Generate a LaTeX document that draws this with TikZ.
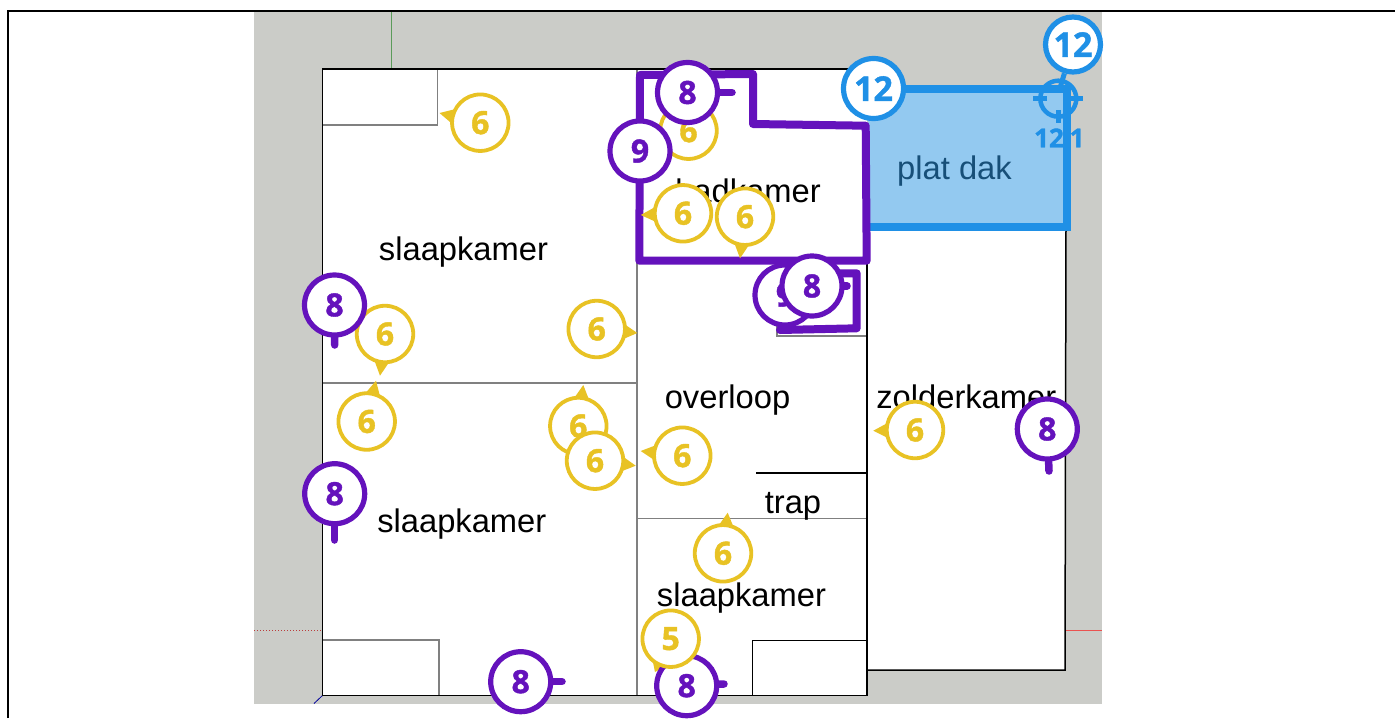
\documentclass[tikz,border=0pt]{standalone}
\usepackage{fontspec}
\setmainfont{Liberation Sans}
\newfontfamily\digitfont[BoldFeatures={FakeBold=1.2}]{Open Sans}
\usetikzlibrary{calc}
\definecolor{ground}{HTML}{CBCCC8}
\definecolor{yel}{HTML}{E8C224}
\definecolor{pur}{HTML}{6412BC}
\definecolor{blu}{HTML}{1F90E6}
\definecolor{roof}{HTML}{93C9F0}
\definecolor{roofink}{HTML}{174F78}
\definecolor{wallgray}{HTML}{808080}
\tikzset{
  wall/.style={draw=black,line width=1.5pt},
  inner wall/.style={draw=wallgray,line width=1.6pt},
  room label/.style={font=\fontsize{32.7}{34}\selectfont,anchor=base,inner sep=0pt,text=black},
  yel badge/.style={circle,draw=yel,fill=white,line width=3.8pt,minimum size=56.5pt,inner sep=0pt,text=yel,font=\fontsize{32}{34}\selectfont\digitfont\bfseries},
  pur badge/.style={circle,draw=pur,fill=white,line width=5.2pt,minimum size=60pt,inner sep=0pt,text=pur,font=\fontsize{32}{34}\selectfont\digitfont\bfseries},
  blu badge/.style={circle,draw=blu,fill=white,line width=5.2pt,minimum size=60pt,inner sep=0pt,text=blu,font=\fontsize{34}{36}\selectfont\digitfont\bfseries},
  pur line/.style={draw=pur,line width=8pt,line cap=round,line join=round},
  pin line/.style={draw=pur,line width=7.5pt,line cap=round},
  blu line/.style={draw=blu,line width=8pt},
  blu thin/.style={draw=blu,line width=4.5pt},
}
% name, x, y, tip x, tip y
\newcommand{\yeltip}[5]{%
  \coordinate (#1c) at (#2,#3);
  \coordinate (#1t) at (#4,#5);
  \fill[yel] (#1t) -- ($(#1c)!27pt!18:(#1t)$) -- ($(#1c)!27pt!-18:(#1t)$) -- cycle;}
\newcommand{\yelbadge}[6]{\yeltip{#1}{#2}{#3}{#4}{#5}\node[yel badge] (#1) at (#1c) {#6};}
\newcommand{\purbadge}[6]{%
  \coordinate (#1t) at (#4,#5);
  \node[pur badge] (#1) at (#2,#3) {#6};
  \draw[pin line] (#1) -- (#1t);}
\begin{document}
\begin{tikzpicture}[x=1pt,y=-1pt]
\useasboundingbox (0,0) rectangle (1395,718);
% frame
\coordinate (frameTL) at (8,11);
\coordinate (frameBL) at (8,718);
\coordinate (frameTR) at (1395,11);
\draw[black,line width=2.5pt] (frameBL) -- (frameTL) -- (frameTR);
% ground
\fill[ground] (254,12.3) rectangle (1102,703.5);
% axes
\draw[green!45!black!55!ground,line width=1pt] (391.5,12.3) -- (391.5,69);
\draw[red!70!black!70!ground,line width=1pt,dotted] (254,630.5) -- (322,630.5);
\draw[red!60!ground,line width=1pt] (1066,630.5) -- (1102,630.5);
\draw[blue!60!black,line width=.8pt] (323,695) -- (314,703.5);
% floors
\fill[white] (322.5,69) rectangle (867,695.5);
\fill[white] (867,226) rectangle (1065.5,670);
% interior walls
\draw[inner wall] (322.5,125) -- (437.3,125) -- (437.3,69);
\draw[inner wall] (322.5,383) -- (637,383);
\draw[inner wall] (637,69) -- (637,695.5);
\draw[inner wall] (637,518.5) -- (867,518.5);
\draw[inner wall] (323,640) -- (438.7,640) -- (438.7,695.5);
\draw[inner wall] (777,300) -- (777,336) -- (867,336);
\draw[wall] (756,473) -- (867,473);
\draw[wall] (752.3,695.5) -- (752.3,640.7) -- (867,640.7);
% outer walls
\draw[wall] (322.5,695.5) -- (322.5,69) -- (867,69);
\draw[wall] (322.5,695.5) -- (867,695.5) -- (867,226);
\draw[wall] (867,670) -- (1065,670) -- (1066,226);
% labels
\node[room label] (lblA) at (463.5,260) {slaapkamer};
\node[room label] (lblB) at (461.8,532.5) {slaapkamer};
\node[room label] (lblC) at (741.5,606) {slaapkamer};
\node[room label] (lblD) at (727.5,408) {overloop};
\node[room label] (lblE) at (793,513) {trap};
\node[room label] (lblF) at (966.3,408) {zolderkamer};
\node[room label] (lblG) at (748,202.5) {badkamer};
% flat roof
\fill[roof] (868,89) rectangle (1066.7,226.7);
\node[room label,text=roofink] (lblH) at (954.5,179) {plat dak};
\draw[blu line] (868,226.7) -- (1066.7,226.7) -- (1066.7,89) -- (868,89);
% crosshair
\node[circle,draw=blu,line width=4.5pt,minimum size=36pt,inner sep=0pt] (cross) at (1058.3,98.7) {};
\coordinate (cL1) at (1033,98.7); \coordinate (cL2) at (1047,98.7);
\coordinate (cR1) at (1070,98.7); \coordinate (cR2) at (1083,98.7);
\coordinate (cB1) at (1058.3,110); \coordinate (cB2) at (1058.3,123);
\draw[blu thin] (cL1) -- (cL2);
\draw[blu thin] (cR1) -- (cR2);
\draw[blu thin] (cB1) -- (cB2);
\node[inner sep=0pt,anchor=base,text=blu,font=\fontsize{26}{28}\selectfont\digitfont\bfseries] (dimA) at (1049,147.3) {12};
\node[inner sep=0pt,anchor=base,text=blu,font=\fontsize{26}{28}\selectfont\digitfont\bfseries] (dimB) at (1077,147.3) {1};
\draw[blu line] (1066.7,85) -- (1066.7,150);
% purple outlines
\draw[pur line] (640,75) -- (753,74) -- (753,124) -- (865.7,125.7) -- (866.7,260.7) -- (639.3,260.7) -- cycle;
\draw[pur line] (780,330) -- (856.7,328.3) -- (856.7,273.3) -- (815,273.3);
% yellow badges
\yelbadge{y1}{480.3}{122.7}{439.5}{113}{6}
\yelbadge{y2}{385}{334}{380}{375.7}{6}
\yelbadge{y3}{596.7}{329}{637.3}{333}{6}
\yelbadge{y4}{366.7}{421.5}{376}{380.7}{6}
\yelbadge{y5}{578.3}{426}{583.3}{385}{6}
\yelbadge{y6}{595}{460.7}{635.7}{465.7}{6}
\yelbadge{y7}{682.3}{455.7}{640.7}{451}{6}
\yelbadge{y8}{723}{553.3}{727.7}{512.7}{6}
\yelbadge{y10}{915}{430}{873.3}{430.7}{6}
\node[yel badge] (y11) at (688.5,130.7) {6};
\yelbadge{y12}{683}{213.3}{640.7}{215}{6}
\yelbadge{y13}{745}{216.7}{740}{258.3}{6}
% purple badges
\purbadge{p1}{334.5}{305}{334.7}{345}{8}
\purbadge{p2}{334.7}{493.7}{334.7}{540}{8}
\purbadge{p3}{520.7}{681.7}{562}{681.7}{8}
\purbadge{p5}{1047.3}{429}{1049}{471}{8}
\node[pur badge] (p9a) at (640,151) {9};
\purbadge{p6}{687.5}{92.5}{732}{92.5}{8}
% second nine and eight
\node[pur badge] (p9b) at (785,295) {9};
\purbadge{p7}{812}{286}{847}{286}{8}
% five over eight
\yeltip{y9}{670.7}{638.7}{655}{672}
\purbadge{p4}{686.7}{685.7}{724}{684}{8}
\node[yel badge] (y9) at (y9c) {5};
% blue badges
\node[blu badge] (b1) at (873.5,88.5) {12};
\coordinate (b2t) at (1060,88);
\node[blu badge,minimum size=55pt] (b2) at (1073,44.5) {12};
\draw[blu thin,line width=5pt] (b2) -- (b2t);
\end{tikzpicture}
\end{document}
